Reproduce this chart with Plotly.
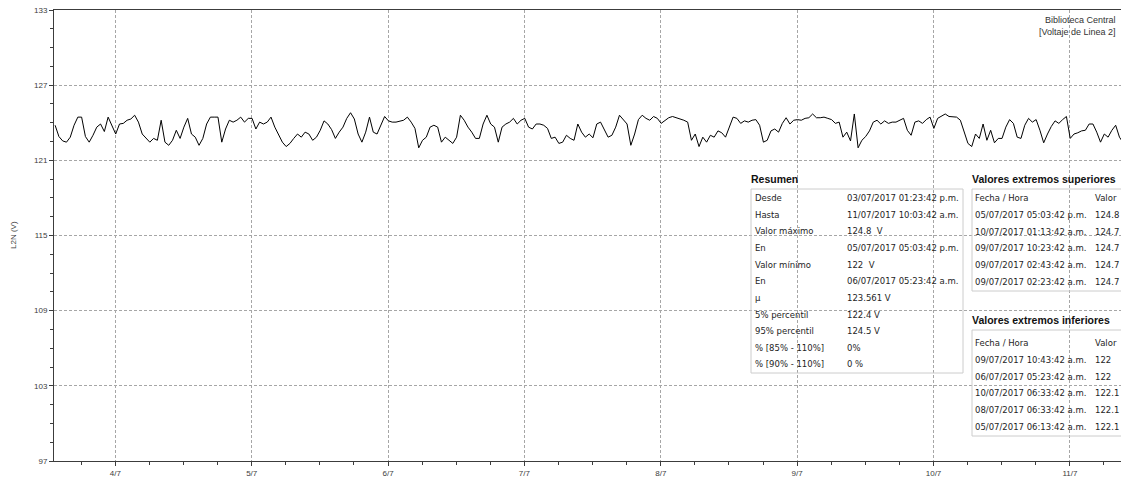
import pandas as pd
import plotly.graph_objects as go

# Line-2 voltage (V), one reading every 40 minutes from 03/07/2017 13:23:42
voltage = [
    123.8, 122.9, 122.55, 122.45, 122.85, 123.8, 124.45, 124.45, 122.9, 122.45,
    123.0, 123.65, 123.9, 123.3, 124.45, 123.8, 123.1, 123.9, 123.95, 124.2,
    124.3, 124.6, 124.05, 123.1, 122.75, 122.45, 122.75, 122.6, 124.2, 122.45,
    122.2, 122.6, 123.4, 122.75, 123.65, 124.35, 123.1, 122.85, 122.2, 122.75,
    123.9, 124.45, 124.45, 124.45, 122.45, 123.5, 124.2, 124.05, 124.2, 124.45,
    124.05, 124.35, 124.35, 123.5, 124.05, 123.9, 124.05, 124.45, 123.65, 123.1,
    122.45, 122.1, 122.35, 122.75, 123.1, 122.85, 123.25, 123.1, 122.6, 122.85,
    123.4, 124.15, 123.9, 123.45, 122.75, 123.25, 123.65, 124.35, 124.8, 124.3,
    123.1, 122.45, 123.25, 124.45, 123.25, 123.1, 123.8, 124.5, 124.15, 124.05,
    124.05, 124.15, 124.2, 124.45, 124.05, 123.55, 122.0, 122.6, 122.85, 123.65,
    123.8, 123.65, 122.45, 122.85, 122.6, 122.35, 122.85, 124.6, 124.2, 123.65,
    123.25, 122.75, 122.75, 123.9, 124.6, 123.9, 123.65, 122.45, 123.65, 123.9,
    124.05, 124.35, 123.9, 124.2, 124.35, 123.65, 123.5, 123.9, 123.9, 123.8,
    123.55, 122.75, 122.85, 122.35, 122.45, 123.0, 122.75, 122.6, 123.9, 123.25,
    122.85, 123.1, 122.8, 123.9, 124.05, 123.45, 122.85, 123.0, 123.65, 124.6,
    124.25, 123.9, 122.2, 123.1, 124.25, 124.6, 124.35, 124.2, 124.5, 124.35,
    123.95, 124.2, 124.4, 124.5, 124.4, 124.35, 124.2, 124.05, 122.6, 123.1,
    122.1, 122.85, 122.45, 123.0, 122.85, 123.35, 123.2, 122.85, 123.7, 124.45,
    124.35, 123.95, 124.15, 124.05, 124.2, 124.25, 123.8, 122.45, 122.6, 123.35,
    123.5, 123.25, 123.95, 124.4, 123.9, 124.2, 124.25, 124.2, 124.35, 124.4,
    124.7, 124.4, 124.4, 124.45, 124.35, 124.25, 123.95, 124.05, 122.85, 123.25,
    122.55, 124.7, 122.0, 122.6, 122.9, 123.35, 124.05, 124.2, 123.9, 124.15,
    123.95, 124.05, 124.05, 124.2, 124.35, 123.4, 123.0, 124.05, 124.15, 123.95,
    124.25, 124.45, 123.55, 124.35, 124.5, 124.7, 124.5, 124.45, 124.45, 124.2,
    123.25, 122.35, 122.1, 123.1, 122.75, 123.9, 122.6, 123.4, 122.4, 122.75,
    122.75, 123.65, 124.25, 123.95, 122.85, 122.75, 123.8, 124.35, 124.05, 124.25,
    123.4, 122.4, 123.1, 123.7, 124.15, 123.95, 124.25, 124.5, 122.75, 123.1,
    123.2, 123.35, 123.4, 123.9, 123.9, 123.25, 122.45, 123.1, 122.85, 123.4,
    123.8, 122.85, 122.4, 122.45,
]
times = pd.date_range("2017-07-03 13:23:42", periods=len(voltage), freq="40min")

summary_labels = ["Desde", "Hasta", "Valor máximo", "En", "Valor mínimo", "En", "μ",
                  "5% percentil", "95% percentil", "% [85% - 110%]", "% [90% - 110%]"]
summary_values = ["03/07/2017 01:23:42 p.m.", "11/07/2017 10:03:42 a.m.", "124.8  V",
                  "05/07/2017 05:03:42 p.m.", "122  V", "06/07/2017 05:23:42 a.m.",
                  "123.561 V", "122.4 V", "124.5 V", "0%", "0 %"]

upper_dates = ["05/07/2017 05:03:42 p.m.", "10/07/2017 01:13:42 a.m.", "09/07/2017 10:23:42 a.m.",
               "09/07/2017 02:43:42 a.m.", "09/07/2017 02:23:42 a.m."]
upper_values = ["124.8", "124.7", "124.7", "124.7", "124.7"]

lower_dates = ["09/07/2017 10:43:42 a.m.", "06/07/2017 05:23:42 a.m.", "10/07/2017 06:33:42 a.m.",
               "08/07/2017 06:33:42 a.m.", "05/07/2017 06:13:42 a.m."]
lower_values = ["122", "122", "122.1", "122.1", "122.1"]

# plot-area geometry in pixels, used to place the side tables
L, T, W, H = 54, 10, 1067, 451
FIG_W, FIG_H = 1121, 477


def px(x):
    return (x - L) / W


def py(y):
    return (T + H - y) / H


FONT = "Liberation Sans, Arial, sans-serif"
TABLE_FONT = "DejaVu Sans, Verdana, sans-serif"
TXT = "#1e1e1e"
AXC = "#3c3c3c"
GRID = "#a6a6a6"

fig = go.Figure()
fig.add_trace(go.Scatter(x=times, y=voltage, mode="lines",
                         line=dict(color="#000000", width=1),
                         hoverinfo="x+y"))

annotations = []
shapes = []


def text(x, y, s, size=8.5, bold=False, xanchor="left", color=TXT, family=TABLE_FONT):
    annotations.append(dict(
        x=px(x), y=py(y), xref="paper", yref="paper", showarrow=False,
        text=f"<b>{s}</b>" if bold else s, xanchor=xanchor, yanchor="middle",
        font=dict(family=family, size=size, color=color)))


def title(x, y, s):
    text(x, y, s, size=10.5, bold=True, color="#111111", family=FONT)


def box(x0, y0, x1, y1):
    shapes.append(dict(type="rect", xref="paper", yref="paper",
                       x0=px(x0), x1=px(x1), y0=py(y1), y1=py(y0),
                       line=dict(color="#cccccc", width=1), fillcolor="rgba(0,0,0,0)"))


# Resumen
title(749, 179, "Resumen")
box(751, 189, 963, 373)
for i, (lab, val) in enumerate(zip(summary_labels, summary_values)):
    y = 198.3 + i * 16.6
    text(753, y, lab)
    text(845, y, val)

# Valores extremos superiores
title(970, 179, "Valores extremos superiores")
box(972, 189, 1135, 291)
text(973, 198.3, "Fecha / Hora")
text(1093, 198.3, "Valor")
for i, (d, v) in enumerate(zip(upper_dates, upper_values)):
    y = 215 + i * 16.7
    text(973, y, d)
    text(1093, y, v)

# Valores extremos inferiores
title(970, 320, "Valores extremos inferiores")
box(972, 330, 1135, 436)
text(973, 343, "Fecha / Hora")
text(1093, 343, "Valor")
for i, (d, v) in enumerate(zip(lower_dates, lower_values)):
    y = 360 + i * 16.7
    text(973, y, d)
    text(1093, y, v)

# station / channel caption
annotations.append(dict(
    x=px(1118), y=py(13), xref="paper", yref="paper", showarrow=False,
    text="Biblioteca Central<br>[Voltaje de Linea 2]", xanchor="right", yanchor="top",
    align="right", font=dict(family=FONT, size=9, color="#333333")))

# y-axis title
annotations.append(dict(
    x=px(13), y=py(235), xref="paper", yref="paper", showarrow=False,
    text="L2N (V)", textangle=-90, xanchor="center", yanchor="middle",
    font=dict(family=FONT, size=8, color=AXC)))

fig.update_layout(
    width=FIG_W, height=FIG_H,
    margin=dict(l=L, r=FIG_W - L - W, t=T, b=FIG_H - T - H, pad=0),
    paper_bgcolor="white", plot_bgcolor="white",
    showlegend=False,
    annotations=annotations, shapes=shapes,
    font=dict(family=FONT, size=8, color=AXC),
)

fig.update_xaxes(
    type="date",
    range=["2017-07-03 13:12", "2017-07-11 09:00"],
    tick0="2017-07-04", dtick=86400000, tickformat="%-d/%-m",
    ticks="outside", ticklen=4, tickcolor=AXC,
    tickfont=dict(family=FONT, size=8, color=AXC),
    showline=True, linecolor=AXC, linewidth=1, mirror=True,
    showgrid=True, gridcolor=GRID, gridwidth=1, griddash="3px,2px",
    minor=dict(dtick=6 * 3600000, tick0="2017-07-04", ticks="outside", ticklen=3,
               tickcolor=AXC, showgrid=False),
    zeroline=False, automargin=False,
)

fig.update_yaxes(
    range=[97, 133], tick0=97, dtick=6,
    ticks="outside", ticklen=4, tickcolor=AXC,
    tickfont=dict(family=FONT, size=8, color=AXC),
    showline=True, linecolor=AXC, linewidth=1,
    showgrid=True, gridcolor=GRID, gridwidth=1, griddash="3px,2px",
    minor=dict(dtick=1.5, tick0=97, ticks="outside", ticklen=3,
               tickcolor=AXC, showgrid=False),
    zeroline=False, automargin=False,
)

fig.write_html("out.html")
